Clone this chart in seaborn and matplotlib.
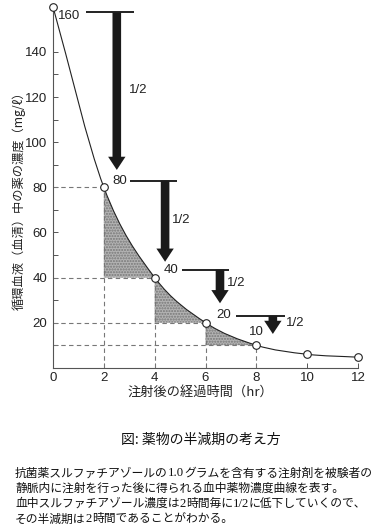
import matplotlib
matplotlib.use("Agg")
import matplotlib.pyplot as plt
import seaborn as sns
from matplotlib.path import Path
from matplotlib.patches import PathPatch
from matplotlib.offsetbox import TextArea, HPacker, AnnotationBbox

# ---------------------------------------------------------------------------
# Data
# ---------------------------------------------------------------------------
hours = [0, 2, 4, 6, 8, 10, 12]
conc = [160, 80, 40, 20, 10, 6.0, 4.7]
value_labels = ["160", "80", "40", "20", "10"]
half_label = "1/2"
x_ticks = [0, 2, 4, 6, 8, 10, 12]
y_ticks = [20, 40, 60, 80, 100, 120, 140]
y_minor = [10, 30, 50, 70, 90, 110, 130]

xlabel = "注射後の経過時間（hr）"
ylabel = "循環血液（血清）中の薬の濃度（mg/ℓ）"
title = "図: 薬物の半減期の考え方"
# caption pieces: (text, serif?) -- the numbers are set in a serif face
caption = [
    [("抗菌薬スルファチアゾールの", False), ("1.0", True),
     ("グラムを含有する注射剤を被験者の", False)],
    [("静脈内に注射を行った後に得られる血中薬物濃度曲線を表す。", False)],
    [("血中スルファチアゾール濃度は", False), ("2", True), ("時間毎に", False),
     ("1/2", True), ("に低下していくので、", False)],
    [("その半減期は", False), ("2", True), ("時間であることがわかる。", False)],
]

# layout (data units) for the half-life markers
bar_x = [(1.3, 3.19), (3.03, 4.88), (5.07, 6.94), (7.2, 9.13)]
bar_dy = [-2.5, 3.0, 3.5, 3.0]
arrow_x = [2.51, 4.41, 6.57, 8.65]
arrow_tip = [87.7, 47.0, 28.6, 15.0]
half_pos = [(3.0, 123), (4.67, 65.5), (6.85, 37.7), (9.17, 19.7)]
value_pos = [(0.2, 156.0, "left"), (2.33, 83.0, "left"), (4.37, 43.3, "left"),
             (6.42, 23.2, "left"), (8.0, 16.0, "center")]

sns.set_theme(style="ticks")
plt.rcParams["font.family"] = ["Liberation Sans", "Noto Sans CJK JP", "DejaVu Sans"]
CJK = ["Noto Sans CJK JP", "DejaVu Sans"]
SERIF = ["Liberation Serif", "DejaVu Serif"]

W, H = 380, 532
fig = plt.figure(figsize=(W / 100, H / 100), dpi=100)
ax = fig.add_axes([53 / W, 164.2 / H, 305 / W, 361 / H])


def bezier_segments(xs, ys):
    """Smooth curve through the points (Catmull-Rom -> cubic Bezier)."""
    n = len(xs)
    tang = []
    for i in range(n):
        a = max(i - 1, 0)
        b = min(i + 1, n - 1)
        k = 0.5 if 0 < i < n - 1 else 1.0
        tang.append(((xs[b] - xs[a]) * k, (ys[b] - ys[a]) * k))
    segs = []
    for i in range(n - 1):
        p0 = (xs[i], ys[i])
        p1 = (xs[i + 1], ys[i + 1])
        c1 = (p0[0] + tang[i][0] / 3, p0[1] + tang[i][1] / 3)
        c2 = (p1[0] - tang[i + 1][0] / 3, p1[1] - tang[i + 1][1] / 3)
        segs.append((p0, c1, c2, p1))
    return segs


segs = bezier_segments(hours, conc)

# shaded areas between curve and dashed level
for p0, c1, c2, p1 in segs[1:4]:
    verts = [p0, c1, c2, p1, (p0[0], p1[1]), p0]
    codes = [Path.MOVETO, Path.CURVE4, Path.CURVE4, Path.CURVE4,
             Path.LINETO, Path.CLOSEPOLY]
    ax.add_patch(PathPatch(Path(verts, codes), facecolor="#b3b3b3",
                           edgecolor="#777777", hatch="......", lw=0, zorder=1))

# curve
verts = [segs[0][0]]
codes = [Path.MOVETO]
for p0, c1, c2, p1 in segs:
    verts += [c1, c2, p1]
    codes += [Path.CURVE4] * 3
ax.add_patch(PathPatch(Path(verts, codes), facecolor="none",
                       edgecolor="#222222", lw=0.8, zorder=3, clip_on=False))

# dashed guides
for x, y in zip(hours[1:5], conc[1:5]):
    ax.plot([x, x], [0, y], color="#777777", lw=0.8, dashes=(4, 3), zorder=2)
    ax.plot([0, x], [y, y], color="#777777", lw=0.8, dashes=(4, 3), zorder=2)

# points
sns.scatterplot(x=hours, y=conc, ax=ax, marker="o", s=30, facecolor="white",
                edgecolor="#222222", linewidth=0.8, zorder=5, clip_on=False)

# value labels
for lab, (x, y, ha) in zip(value_labels, value_pos):
    ax.text(x, y, lab, ha=ha, va="center", fontsize=9.5, color="#222222")

# half-life bars and arrows
for i in range(4):
    top = conc[i] + bar_dy[i]
    ax.plot(bar_x[i], [top, top], color="#222222", lw=1.4, solid_capstyle="butt",
            clip_on=False, zorder=4)
    ax.annotate("", xy=(arrow_x[i], arrow_tip[i]), xytext=(arrow_x[i], top),
                arrowprops=dict(arrowstyle="simple,head_length=0.95,head_width=1.25,tail_width=0.62",
                                mutation_scale=10, fc="#1a1a1a", ec="none",
                                shrinkA=0, shrinkB=0), zorder=4)
    ax.text(half_pos[i][0], half_pos[i][1], half_label, ha="left", va="center",
            fontsize=9.5, color="#222222")

ax.set_xlim(0, 12)
ax.set_ylim(0, 160)
ax.set_xticks(x_ticks)
ax.set_yticks(y_ticks)
ax.set_yticks(y_minor, minor=True)
ax.tick_params(axis="both", which="both", direction="in", length=3.5, width=0.7,
               color="#555555", labelsize=9.5, labelcolor="#222222", pad=4)
ax.tick_params(axis="x", pad=3)
for side in ["top", "right"]:
    ax.spines[side].set_visible(False)
for side in ["left", "bottom"]:
    ax.spines[side].set_color("#555555")
    ax.spines[side].set_linewidth(0.8)
ax.set_xlabel("")
ax.set_ylabel("")

fig.text(200 / W, 1 - 392 / H, xlabel, ha="center", va="center",
         fontsize=9.5, family=CJK, color="#222222")
fig.text(19 / W, 1 - 198 / H, ylabel, ha="center", va="center", rotation=90,
         fontsize=8.8, family=CJK, color="#222222")
fig.text(201 / W, 1 - 440 / H, title, ha="center", va="center",
         fontsize=10, family=CJK, color="#111111")

for j, pieces in enumerate(caption):
    boxes = [TextArea(t, textprops=dict(fontsize=9.2 if serif else 8.5,
                                        family=SERIF if serif else CJK,
                                        color="#111111"))
             for t, serif in pieces]
    row = HPacker(children=boxes, align="baseline", pad=0, sep=0)
    fig.add_artist(AnnotationBbox(row, (15 / W, 1 - (473 + j * 15.3) / H),
                                  xycoords="figure fraction", box_alignment=(0, 0.5),
                                  frameon=False, pad=0))

fig.savefig("out.png", dpi=100)
